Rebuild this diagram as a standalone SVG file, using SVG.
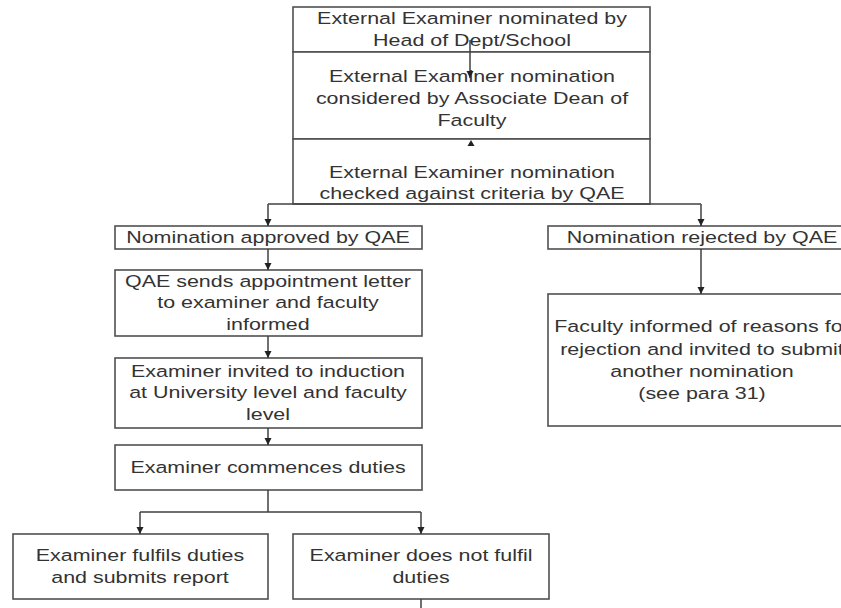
<svg xmlns="http://www.w3.org/2000/svg" width="841" height="608" viewBox="0 0 841 608">
<defs>
<style>
.box{fill:#fff;stroke:#505050;stroke-width:1.6}
.t{font-family:"Liberation Sans",Arial,sans-serif;font-size:16.5px;fill:#333;text-anchor:middle}
.c{fill:none;stroke:#404040;stroke-width:1.5}
</style>
<marker id="ah" markerUnits="userSpaceOnUse" markerWidth="8" markerHeight="8" refX="7" refY="3.5" orient="auto">
<path d="M0,0 L7,3.5 L0,7 z" fill="#222"/>
</marker>
</defs>
<rect width="841" height="608" fill="#fff"/>
<g id="n1"><rect class="box" x="293" y="7" width="357" height="45"/>
<text class="t" transform="translate(472,24) scale(1.3,1)">External Examiner nominated by</text>
<text class="t" transform="translate(472,46) scale(1.3,1)">Head of Dept/School</text></g>
<g id="n2"><rect class="box" x="293" y="52" width="357" height="87"/>
<text class="t" transform="translate(472,82) scale(1.3,1)">External Examiner nomination</text>
<text class="t" transform="translate(472,104) scale(1.3,1)">considered by Associate Dean of</text>
<text class="t" transform="translate(472,126) scale(1.3,1)">Faculty</text></g>
<g id="n3"><rect class="box" x="293" y="139" width="357" height="65"/>
<text class="t" transform="translate(472,178) scale(1.3,1)">External Examiner nomination</text>
<text class="t" transform="translate(472,199) scale(1.3,1)">checked against criteria by QAE</text></g>
<g id="n4"><rect class="box" x="115" y="226" width="307" height="23"/>
<text class="t" transform="translate(268,243) scale(1.3,1)">Nomination approved by QAE</text></g>
<g id="n5"><rect class="box" x="548" y="226" width="308" height="23"/>
<text class="t" transform="translate(702,243) scale(1.3,1)">Nomination rejected by QAE</text></g>
<g id="n6"><rect class="box" x="115" y="270" width="307" height="66"/>
<text class="t" transform="translate(268,287) scale(1.3,1)">QAE sends appointment letter</text>
<text class="t" transform="translate(268,308) scale(1.3,1)">to examiner and faculty</text>
<text class="t" transform="translate(268,330) scale(1.3,1)">informed</text></g>
<g id="n7"><rect class="box" x="548" y="294" width="308" height="132"/>
<text class="t" transform="translate(702,332) scale(1.3,1)">Faculty informed of reasons for</text>
<text class="t" transform="translate(702,355) scale(1.3,1)">rejection and invited to submit</text>
<text class="t" transform="translate(702,377) scale(1.3,1)">another nomination</text>
<text class="t" transform="translate(702,399) scale(1.3,1)">(see para 31)</text></g>
<g id="n8"><rect class="box" x="115" y="358" width="307" height="70"/>
<text class="t" transform="translate(268,377) scale(1.3,1)">Examiner invited to induction</text>
<text class="t" transform="translate(268,398) scale(1.3,1)">at University level and faculty</text>
<text class="t" transform="translate(268,420) scale(1.3,1)">level</text></g>
<g id="n9"><rect class="box" x="115" y="445" width="307" height="45"/>
<text class="t" transform="translate(268,473) scale(1.3,1)">Examiner commences duties</text></g>
<g id="n10"><rect class="box" x="13" y="534" width="255" height="65"/>
<text class="t" transform="translate(140,561) scale(1.3,1)">Examiner fulfils duties</text>
<text class="t" transform="translate(140,583) scale(1.3,1)">and submits report</text></g>
<g id="n11"><rect class="box" x="293" y="534" width="256" height="65"/>
<text class="t" transform="translate(421,561) scale(1.3,1)">Examiner does not fulfil</text>
<text class="t" transform="translate(421,583) scale(1.3,1)">duties</text></g>
<g id="connectors">
<path class="c" d="M470,40 V78" marker-end="url(#ah)"/>
<polygon points="471,140 467.5,146 474.5,146" fill="#222"/>
<path class="c" d="M268,204 H701"/>
<path class="c" d="M268,204 V226" marker-end="url(#ah)"/>
<path class="c" d="M701,204 V226" marker-end="url(#ah)"/>
<path class="c" d="M268,249 V270" marker-end="url(#ah)"/>
<path class="c" d="M268,336 V358" marker-end="url(#ah)"/>
<path class="c" d="M268,428 V445" marker-end="url(#ah)"/>
<path class="c" d="M268,490 V512 M140,512 H421"/>
<path class="c" d="M140,512 V534" marker-end="url(#ah)"/>
<path class="c" d="M421,512 V534" marker-end="url(#ah)"/>
<path class="c" d="M701,249 V294" marker-end="url(#ah)"/>
<path class="c" d="M421,599 V608"/>
</g>
</svg>
